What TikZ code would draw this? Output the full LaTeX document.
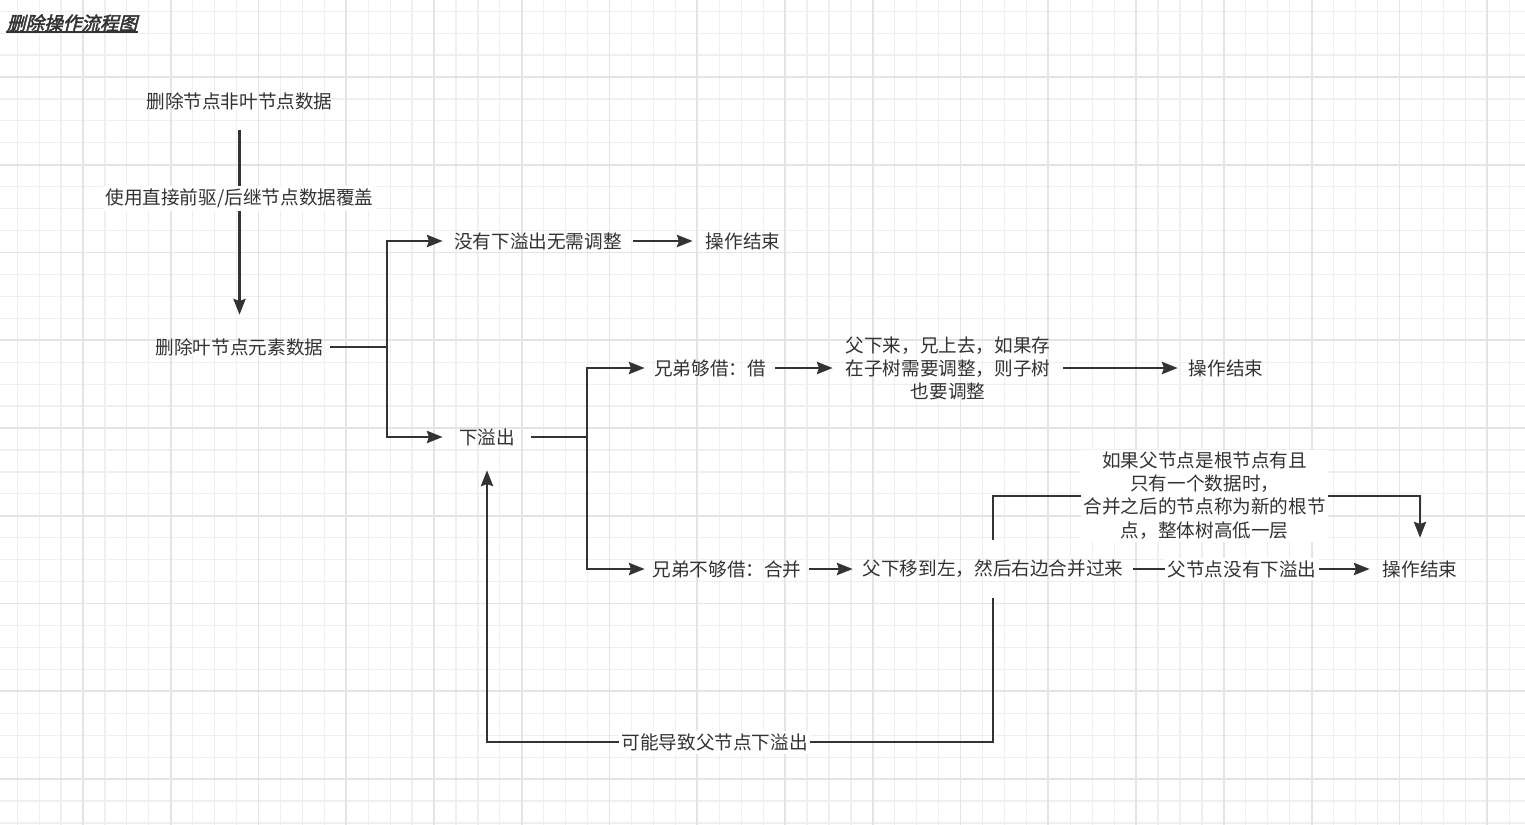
\documentclass[tikz,border=0pt]{standalone}
\usepackage{fontspec}
\setmainfont{Noto Sans CJK SC}
\newfontfamily\titlefont[FakeSlant=0.25,FakeBold=2.5]{Noto Sans CJK SC}
\usepackage{xcolor}
\usetikzlibrary{arrows.meta,positioning}
\definecolor{ink}{HTML}{333333}
\definecolor{gridfine}{HTML}{EFEFEF}
\definecolor{gridbold}{HTML}{E4E4E4}
\tikzset{
  txt/.style={text=ink, font=\fontsize{10.6}{13.1}\selectfont, align=center, inner sep=0pt},
  lbl/.style={txt, fill=white, inner sep=1.5pt},
  arr/.style={draw=ink, line width=1.15pt, -{Stealth[length=9pt,width=7pt,inset=1.2pt]}},
}

\begin{document}
\begin{tikzpicture}[x=0.02cm, y=-0.02cm]
    \useasboundingbox (0,0) rectangle (1525,825);
    \begin{scope}
        \clip (0,0) rectangle (1525,825);
        \fill[white] (0,0) rectangle (1525,825);
        \foreach \k in {-4,...,66} {
            \pgfmathsetmacro\gx{83+21.94*\k}
            \draw[gridfine, line width=0.7pt] (\gx,0) -- (\gx,825);
        }
        \foreach \k in {-4,...,36} {
            \pgfmathsetmacro\gy{77+21.94*\k}
            \draw[gridfine, line width=0.7pt] (0,\gy) -- (1525,\gy);
        }
        \foreach \k in {-1,...,16} {
            \pgfmathsetmacro\gx{83+87.76*\k}
            \draw[gridbold, line width=1pt] (\gx,0) -- (\gx,825);
        }
        \foreach \k in {-1,...,9} {
            \pgfmathsetmacro\gy{77+87.76*\k}
            \draw[gridbold, line width=1pt] (0,\gy) -- (1525,\gy);
        }
    \end{scope}

    \node[txt, font=\titlefont\fontsize{10.6}{13}\selectfont] (ttl) at (72,23) {删除操作流程图};
    \draw[ink, line width=1pt] (ttl.south west) -- (ttl.south east);

    \node[txt, minimum width=3.8cm, minimum height=1.16cm] (del) at (239.5,101) {删除节点非叶节点数据};
    \node[txt, minimum width=3.6cm, minimum height=1.28cm] (leaf) at (239.5,347) {删除叶节点元素数据};
    \node[txt, minimum width=3.8cm, minimum height=1.2cm] (noov) at (538,241) {没有下溢出无需调整};
    \node[txt, minimum width=2cm, minimum height=1.2cm] (end1) at (743,241) {操作结束};
    \node[txt, minimum width=1.76cm, minimum height=1.32cm] (under) at (487,437) {下溢出};
    \node[txt, minimum width=2.6cm, minimum height=1.2cm] (borrow) at (710,368) {兄弟够借：借};
    \node[txt, minimum width=4.6cm, minimum height=1.4cm] (adj) at (948,368) {父下来，兄上去，如果存\\在子树需要调整，则子树\\也要调整};
    \node[txt, minimum width=1.92cm, minimum height=1.2cm] (end2) at (1226,368) {操作结束};
    \node[txt, minimum width=3.28cm, minimum height=1.16cm] (merge) at (727,569) {兄弟不够借：合并};
    \node[txt, minimum width=5.6cm, minimum height=1.16cm] (down) at (993,569) {父下移到左，然后右边合并过来};
    \node[txt, minimum width=2cm, minimum height=1.24cm] (end3) at (1420,569) {操作结束};

    \draw[arr] (del) -- node[lbl, pos=0.37] {使用直接前驱/后继节点数据覆盖} (leaf);
    \draw[arr] (leaf.east) -- ++(57,0) |- (noov.west);
    \draw[arr] (leaf.east) -- ++(57,0) |- (under.west);
    \draw[arr] (noov) -- (end1);
    \draw[arr] (under.east) -- ++(56,0) |- (borrow.west);
    \draw[arr] (under.east) -- ++(56,0) |- (merge.west);
    \draw[arr] (borrow) -- (adj);
    \draw[arr] (adj) -- (end2);
    \draw[arr] (merge) -- (down);
    \draw[arr] (down) -- node[lbl, pos=0.46] {父节点没有下溢出} (end3);
    \draw[arr] (down.north) -- ++(0,-44) -| node[lbl, pos=0.248] {如果父节点是根节点有且\\只有一个数据时，\\合并之后的节点称为新的根节\\点，整体树高低一层} (end3.north);
    \draw[arr] (down.south) -- ++(0,144) -| node[lbl, pos=0.275] {可能导致父节点下溢出} (under.south);
\end{tikzpicture}
\end{document}
